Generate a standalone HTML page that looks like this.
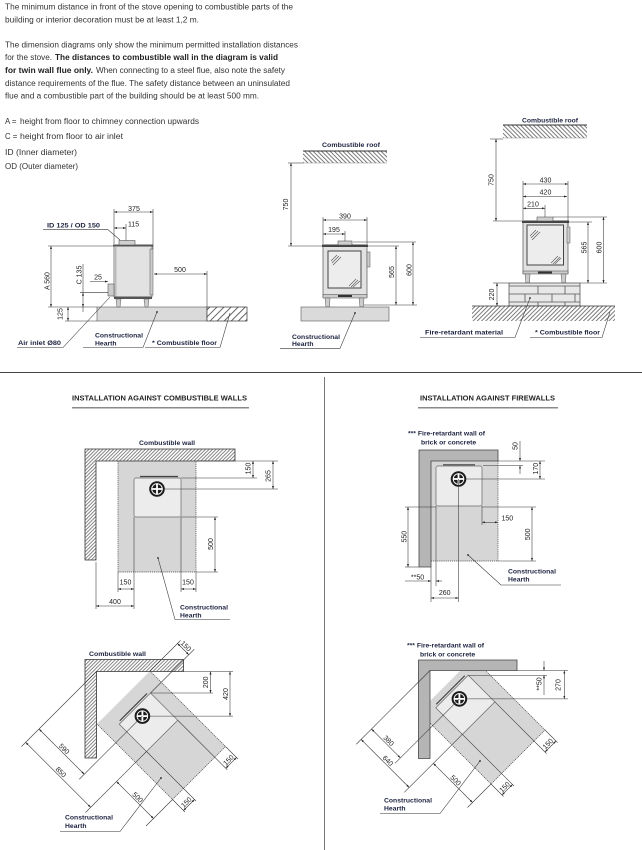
<!DOCTYPE html>
<html><head><meta charset="utf-8"><style>
html,body{margin:0;padding:0;background:#fff;}
svg{display:block;}
text{font-family:"Liberation Sans",sans-serif;}
.t{font-size:7.8px;fill:#333;}
.tb{font-size:7.8px;fill:#222;font-weight:bold;}
.n{font-size:7px;fill:#222;}
.l{font-size:6.8px;fill:#1d2340;font-weight:bold;}
.h{font-size:7px;fill:#222;font-weight:bold;}
.k{stroke:#333;stroke-width:0.55;fill:none;}
.d{stroke:#333;stroke-width:0.55;fill:none;marker-start:url(#ar);marker-end:url(#ar);}
.e{stroke:#333;stroke-width:0.55;fill:none;marker-end:url(#ar);}
.dot{stroke:#444;stroke-width:0.7;stroke-dasharray:1.2,0.9;fill:none;}
</style></head><body>
<svg width="642" height="850" viewBox="0 0 642 850" xmlns="http://www.w3.org/2000/svg">
<defs>
<marker id="ar" viewBox="0 0 6 4" refX="6" refY="2" markerWidth="3.2" markerHeight="2" markerUnits="userSpaceOnUse" orient="auto-start-reverse"><path d="M0,0L6,2L0,4z" fill="#222"/></marker>
<pattern id="hA" patternUnits="userSpaceOnUse" width="5" height="5" patternTransform="rotate(45)"><rect width="5" height="5" fill="#fff"/><line x1="0.5" y1="0" x2="0.5" y2="5" stroke="#222" stroke-width="0.7"/></pattern>
<pattern id="hB" patternUnits="userSpaceOnUse" width="3" height="3" patternTransform="rotate(45)"><rect width="3" height="3" fill="#fff"/><line x1="0.5" y1="0" x2="0.5" y2="3" stroke="#222" stroke-width="0.6"/></pattern>
<pattern id="hR" patternUnits="userSpaceOnUse" width="3" height="3" patternTransform="rotate(-45)"><rect width="3" height="3" fill="#fff"/><line x1="0.5" y1="0" x2="0.5" y2="3" stroke="#222" stroke-width="0.6"/></pattern>
<pattern id="hW" patternUnits="userSpaceOnUse" width="2.5" height="2.5" patternTransform="rotate(45)"><rect width="2.5" height="2.5" fill="#fff"/><line x1="0.5" y1="0" x2="0.5" y2="2.5" stroke="#222" stroke-width="0.55"/></pattern>
<g id="fl"><circle r="7.8" fill="#1b1b1b"/><circle r="5.3" fill="none" stroke="#fff" stroke-width="0.9"/><rect x="-5.6" y="-0.9" width="11.2" height="1.8" fill="#fff"/><rect x="-0.9" y="-5.6" width="1.8" height="11.2" fill="#fff"/></g>
<clipPath id="cr"><rect x="430" y="670.5" width="200" height="180"/></clipPath>
</defs>
<rect width="642" height="850" fill="#fff"/>

<!-- Top text -->
<text class="t" x="5" y="9.3" textLength="288" lengthAdjust="spacingAndGlyphs">The minimum distance in front of the stove opening to combustible parts of the</text>
<text class="t" x="5" y="22.5" textLength="194" lengthAdjust="spacingAndGlyphs">building or interior decoration must be at least 1,2 m.</text>
<text class="t" x="5" y="47.5" textLength="293" lengthAdjust="spacingAndGlyphs">The dimension diagrams only show the minimum permitted installation distances</text>
<text class="t" x="5" y="60.2" textLength="47" lengthAdjust="spacingAndGlyphs">for the stove.</text>
<text class="tb" x="55" y="60.2" textLength="223" lengthAdjust="spacingAndGlyphs">The distances to combustible wall in the diagram is valid</text>
<text class="tb" x="5" y="73.2" textLength="88" lengthAdjust="spacingAndGlyphs">for twin wall flue only.</text>
<text class="t" x="96" y="73.2" textLength="189" lengthAdjust="spacingAndGlyphs">When connecting to a steel flue, also note the safety</text>
<text class="t" x="5" y="85.8" textLength="285" lengthAdjust="spacingAndGlyphs">distance requirements of the flue. The safety distance between an uninsulated</text>
<text class="t" x="5" y="98.5" textLength="254" lengthAdjust="spacingAndGlyphs">flue and a combustible part of the building should be at least 500 mm.</text>
<text class="t" x="5" y="124.2">A =</text>
<text class="t" x="20" y="124.2" textLength="179" lengthAdjust="spacingAndGlyphs">height from floor to chimney connection upwards</text>
<text class="t" x="5" y="139.2">C =</text>
<text class="t" x="20" y="139.2" textLength="103" lengthAdjust="spacingAndGlyphs">height from floor to air inlet</text>
<text class="t" x="5" y="154.8" textLength="72" lengthAdjust="spacingAndGlyphs">ID (Inner diameter)</text>
<text class="t" x="5" y="169.2" textLength="73" lengthAdjust="spacingAndGlyphs">OD (Outer diameter)</text>

<!-- D1 left stove side view -->
<rect x="97" y="307" width="110" height="14" fill="#dadada" stroke="#555" stroke-width="0.6"/>
<rect x="207" y="307" width="40" height="14" fill="url(#hA)" stroke="#333" stroke-width="0.7"/>
<line class="k" x1="48" y1="307" x2="97" y2="307"/>
<line class="k" x1="65" y1="321" x2="97" y2="321"/>
<rect x="114" y="246" width="38" height="51" fill="#e2e2e2" stroke="#555" stroke-width="0.7"/>
<rect x="114" y="247" width="2.5" height="50" fill="#bbb"/>
<rect x="113" y="244.5" width="40" height="2" fill="#555"/>
<rect x="150" y="249" width="3" height="46" fill="#ccc" stroke="#555" stroke-width="0.5"/>
<rect x="114" y="296.5" width="38" height="2.5" fill="#555"/>
<path d="M116,299L121,299L120,307L117,307Z M144,299L149,299L148,307L145,307Z" fill="#ccc" stroke="#555" stroke-width="0.5"/>
<rect x="119" y="240.5" width="16" height="4.5" fill="#d0d0d0" stroke="#555" stroke-width="0.6"/>
<rect x="108" y="284" width="6" height="12" fill="#ccc" stroke="#555" stroke-width="0.6"/>
<line class="d" x1="114" y1="212" x2="153" y2="212"/>
<line class="k" x1="114" y1="209" x2="114" y2="244"/>
<line class="k" x1="153" y1="209" x2="153" y2="249"/>
<text class="n" x="134" y="211" text-anchor="middle">375</text>
<line class="d" x1="114" y1="228" x2="126" y2="228"/>
<line class="k" x1="126" y1="224" x2="126" y2="240.5"/>
<text class="n" x="128" y="226.5">115</text>
<text class="l" x="47" y="227.5" textLength="53" lengthAdjust="spacingAndGlyphs">ID 125 / OD 150</text>
<polyline class="k" points="43,229.7 108,229.7 120,240"/>
<line class="d" x1="51" y1="246" x2="51" y2="307"/>
<line class="k" x1="48" y1="246" x2="113" y2="246"/>
<text class="n" transform="translate(49.5,281) rotate(-90)" text-anchor="middle">A 560</text>
<line class="k" x1="83" y1="264" x2="83" y2="292.7"/>
<line class="d" x1="83" y1="292.7" x2="83" y2="307"/>
<line class="k" x1="83" y1="307" x2="83" y2="312"/>
<line class="k" x1="80" y1="292.7" x2="108" y2="292.7"/>
<text class="n" transform="translate(81.5,275) rotate(-90)" text-anchor="middle">C 135</text>
<line class="e" x1="90" y1="281.5" x2="108" y2="281.5"/>
<text class="n" x="98" y="279.5" text-anchor="middle">25</text>
<line class="d" x1="68" y1="307" x2="68" y2="321"/>
<text class="n" transform="translate(62.3,314) rotate(-90)" text-anchor="middle">125</text>
<line class="d" x1="154" y1="274" x2="207" y2="274"/>
<line class="k" x1="207" y1="271" x2="207" y2="307"/>
<text class="n" x="180" y="271.8" text-anchor="middle">500</text>
<text class="l" x="18" y="344.8" textLength="43" lengthAdjust="spacingAndGlyphs">Air inlet Ø80</text>
<polyline class="k" points="17,347.5 63,347.5 110,297"/>
<text class="l" x="95" y="337.5">Constructional</text>
<text class="l" x="95" y="345.3">Hearth</text>
<polyline class="k" points="83,347.5 143,347.5 157,312"/>
<circle cx="157" cy="312" r="0.9" fill="#222"/>
<text class="l" x="152" y="344.8" textLength="65" lengthAdjust="spacingAndGlyphs">* Combustible floor</text>
<polyline class="k" points="145,347.5 220,347.5 230,313"/>

<!-- D2 middle front view -->
<rect x="303" y="151" width="84" height="12" fill="url(#hR)"/>
<line x1="303" y1="151" x2="387" y2="151" stroke="#333" stroke-width="0.9"/>
<line x1="303" y1="163" x2="387" y2="163" stroke="#777" stroke-width="0.4"/>
<text class="l" x="351" y="147" text-anchor="middle" textLength="58" lengthAdjust="spacingAndGlyphs">Combustible roof</text>
<line class="d" x1="291" y1="163" x2="291" y2="246"/>
<line class="k" x1="288" y1="163" x2="303" y2="163"/>
<line class="k" x1="288" y1="246" x2="322" y2="246"/>
<text class="n" transform="translate(288,204.5) rotate(-90)" text-anchor="middle">750</text>
<rect x="323" y="246" width="44" height="51" fill="#e2e2e2" stroke="#555" stroke-width="0.7"/>
<rect x="322" y="244.5" width="46" height="2.5" fill="#444"/>
<rect x="328" y="251" width="33" height="37" fill="#ededed" stroke="#444" stroke-width="1"/>
<path d="M331,261L337,255M332,263L339,256M333,265L341,257M349,286L356,279M351,287L358,280M353,287L360,281" stroke="#555" stroke-width="0.6"/>
<rect x="367" y="252" width="3" height="15" fill="#ccc" stroke="#555" stroke-width="0.5"/>
<rect x="323" y="294.5" width="44" height="3.5" fill="#ccc" stroke="#444" stroke-width="0.5"/>
<rect x="338" y="295" width="14" height="2" fill="#333"/>
<path d="M325,298L330,298L329.5,307L326,307Z M359,298L364,298L363.5,307L360,307Z" fill="#ccc" stroke="#555" stroke-width="0.5"/>
<rect x="338" y="241" width="14" height="4" fill="#d0d0d0" stroke="#555" stroke-width="0.6"/>
<rect x="301" y="307" width="88" height="14" fill="#dadada" stroke="#555" stroke-width="0.6"/>
<line class="d" x1="323" y1="220" x2="367" y2="220"/>
<text class="n" x="345" y="218.3" text-anchor="middle">390</text>
<line class="k" x1="323" y1="217" x2="323" y2="244"/>
<line class="k" x1="367" y1="217" x2="367" y2="244"/>
<line class="d" x1="323" y1="234" x2="345" y2="234"/>
<text class="n" x="334" y="232" text-anchor="middle">195</text>
<line class="k" x1="345" y1="231" x2="345" y2="241"/>
<line class="d" x1="396" y1="246" x2="396" y2="305"/>
<line class="k" x1="368" y1="246" x2="399" y2="246"/>
<line class="k" x1="364" y1="305" x2="417" y2="305"/>
<text class="n" transform="translate(394,272) rotate(-90)" text-anchor="middle">565</text>
<line class="d" x1="413" y1="242" x2="413" y2="305"/>
<line class="k" x1="353" y1="242" x2="416" y2="242"/>
<text class="n" transform="translate(411.5,270) rotate(-90)" text-anchor="middle">600</text>
<text class="l" x="292" y="339">Constructional</text>
<text class="l" x="292" y="346">Hearth</text>
<polyline class="k" points="280,348.3 340,348.3 355,313"/>
<circle cx="355" cy="313" r="0.9" fill="#222"/>

<!-- D3 right front view on plinth -->
<text class="l" x="550" y="122.7" text-anchor="middle" textLength="56" lengthAdjust="spacingAndGlyphs">Combustible roof</text>
<rect x="503" y="125" width="84" height="13" fill="url(#hR)"/>
<line x1="503" y1="125" x2="587" y2="125" stroke="#333" stroke-width="0.9"/>
<line x1="503" y1="138" x2="587" y2="138" stroke="#777" stroke-width="0.4"/>
<line class="d" x1="496" y1="139" x2="496" y2="221"/>
<line class="k" x1="490" y1="139" x2="503" y2="139"/>
<line class="k" x1="493" y1="221" x2="522" y2="221"/>
<text class="n" transform="translate(493.3,180) rotate(-90)" text-anchor="middle">750</text>
<rect x="523" y="221.5" width="45" height="52" fill="#e2e2e2" stroke="#555" stroke-width="0.7"/>
<rect x="522" y="220.5" width="47" height="2.5" fill="#444"/>
<rect x="527" y="225" width="36.5" height="40" fill="#ededed" stroke="#444" stroke-width="1"/>
<path d="M530,236L536,230M531,238L538,231M532,240L540,232M551,263L558,256M553,264L560,257M555,264L561,258" stroke="#555" stroke-width="0.6"/>
<rect x="567" y="227" width="3" height="16" fill="#ccc" stroke="#555" stroke-width="0.5"/>
<rect x="523" y="271" width="45" height="3" fill="#ccc" stroke="#444" stroke-width="0.5"/>
<rect x="538" y="271.5" width="14" height="2" fill="#333"/>
<path d="M525,274L530,274L529.5,283L526,283Z M561,274L566,274L565.5,283L562,283Z" fill="#ccc" stroke="#555" stroke-width="0.5"/>
<rect x="537" y="217" width="16" height="4" fill="#d0d0d0" stroke="#555" stroke-width="0.6"/>
<rect x="509" y="283" width="71" height="23" fill="#e8e8e8" stroke="#444" stroke-width="0.7"/>
<path d="M509,286H580M509,294H580M509,302H580M538,286V294M565,286V294M525,294V302M552,294V302M575,294V302M538,302V306M565,302V306" stroke="#555" stroke-width="0.8" fill="none"/>
<rect x="472" y="306" width="143" height="15" fill="url(#hB)"/>
<line x1="472" y1="306" x2="615" y2="306" stroke="#333" stroke-width="0.8"/>
<line class="d" x1="523" y1="184" x2="568" y2="184"/>
<text class="n" x="545.5" y="182.5" text-anchor="middle">430</text>
<line class="d" x1="523" y1="196.5" x2="567" y2="196.5"/>
<text class="n" x="545.5" y="194.7" text-anchor="middle">420</text>
<line class="d" x1="523" y1="208.3" x2="545" y2="208.3"/>
<text class="n" x="533" y="206.5" text-anchor="middle">210</text>
<line class="k" x1="545" y1="205" x2="545" y2="217"/>
<line class="k" x1="523" y1="181" x2="523" y2="220"/>
<line class="k" x1="568" y1="181" x2="568" y2="226"/>
<line class="d" x1="588" y1="222" x2="588" y2="283"/>
<text class="n" transform="translate(586.5,247.5) rotate(-90)" text-anchor="middle">565</text>
<line class="d" x1="603.5" y1="217" x2="603.5" y2="283"/>
<text class="n" transform="translate(601.3,247.5) rotate(-90)" text-anchor="middle">600</text>
<line class="k" x1="553" y1="217" x2="607" y2="217"/>
<line class="k" x1="569" y1="222" x2="592" y2="222"/>
<line class="k" x1="580" y1="283" x2="607" y2="283"/>
<line class="d" x1="497" y1="283" x2="497" y2="306"/>
<line class="k" x1="493" y1="283" x2="509" y2="283"/>
<text class="n" transform="translate(494,294.5) rotate(-90)" text-anchor="middle">220</text>
<text class="l" x="425" y="334.5" textLength="78" lengthAdjust="spacingAndGlyphs">Fire-retardant material</text>
<polyline class="k" points="420,337.5 515,337.5 530,298"/>
<circle cx="530" cy="298" r="0.9" fill="#222"/>
<text class="l" x="535" y="334.5" textLength="65" lengthAdjust="spacingAndGlyphs">* Combustible floor</text>
<polyline class="k" points="530,337.5 602,337.5 610,312"/>

<!-- Dividers -->
<line x1="0" y1="372.5" x2="642" y2="372.5" stroke="#444" stroke-width="1"/>
<line x1="324.5" y1="377" x2="324.5" y2="850" stroke="#777" stroke-width="1"/>

<!-- P1 combustible walls plan -->
<text class="h" x="72" y="400.5" textLength="175" lengthAdjust="spacingAndGlyphs">INSTALLATION AGAINST COMBUSTIBLE WALLS</text>
<line x1="72" y1="407.8" x2="249" y2="407.8" stroke="#8a8a8a" stroke-width="1.5"/>
<text class="l" x="167" y="445" text-anchor="middle" textLength="56" lengthAdjust="spacingAndGlyphs">Combustible wall</text>
<rect x="118" y="461" width="78" height="111" fill="#d6d6d6"/>
<path class="dot" d="M118,461V572H196V461"/>
<path d="M85,449H235V461H96V560H85Z" fill="url(#hW)" stroke="#333" stroke-width="0.8"/>
<rect x="134" y="478" width="47" height="39" rx="2" fill="#ececec" stroke="#666" stroke-width="0.7"/>
<line x1="140" y1="476.5" x2="178" y2="476.5" stroke="#444" stroke-width="1.2"/>
<use href="#fl" x="157" y="489"/>
<line class="d" x1="253" y1="461" x2="253" y2="478"/>
<text class="n" transform="translate(250.7,468.5) rotate(-90)" text-anchor="middle">150</text>
<line class="d" x1="273" y1="461" x2="273" y2="489"/>
<text class="n" transform="translate(270.7,476) rotate(-90)" text-anchor="middle">265</text>
<line class="k" x1="196" y1="461" x2="278" y2="461"/>
<line class="k" x1="181" y1="478" x2="257" y2="478"/>
<line class="k" x1="164" y1="489" x2="278" y2="489"/>
<line class="d" x1="215" y1="517" x2="215" y2="572"/>
<text class="n" transform="translate(213,544) rotate(-90)" text-anchor="middle">500</text>
<line class="k" x1="181" y1="517" x2="218" y2="517"/>
<line class="k" x1="196" y1="572" x2="218" y2="572"/>
<line class="k" x1="134" y1="517" x2="134" y2="609"/>
<line class="k" x1="181" y1="517" x2="181" y2="592"/>
<line class="d" x1="118" y1="589" x2="134" y2="589"/>
<line class="k" x1="118" y1="572" x2="118" y2="592"/>
<text class="n" x="125.5" y="584.3" text-anchor="middle">150</text>
<line class="d" x1="181" y1="589" x2="196" y2="589"/>
<line class="k" x1="196" y1="572" x2="196" y2="592"/>
<text class="n" x="188" y="584.3" text-anchor="middle">150</text>
<line class="d" x1="96" y1="606" x2="134" y2="606"/>
<line class="k" x1="96" y1="562" x2="96" y2="609"/>
<text class="n" x="115" y="604" text-anchor="middle">400</text>
<text class="l" x="180" y="609.5">Constructional</text>
<text class="l" x="180" y="617.3">Hearth</text>
<polyline class="k" points="230,619.5 175,619.5 158,558"/>
<circle cx="158" cy="558" r="0.9" fill="#222"/>

<!-- P2 firewalls plan -->
<text class="h" x="420" y="400.5" textLength="135" lengthAdjust="spacingAndGlyphs">INSTALLATION AGAINST FIREWALLS</text>
<line x1="418" y1="407.8" x2="558" y2="407.8" stroke="#8a8a8a" stroke-width="1.5"/>
<text class="l" x="408" y="435.5">*** Fire-retardant wall of</text>
<text class="l" x="421" y="444.5">brick or concrete</text>
<rect x="431" y="461" width="67" height="100" fill="#d6d6d6"/>
<path class="dot" d="M498,461V561H431"/>
<path d="M419,450H498V461H431V567H419Z" fill="#b5b5b5" stroke="#444" stroke-width="0.8"/>
<rect x="436" y="466" width="46" height="40" rx="2" fill="#ececec" stroke="#666" stroke-width="0.7"/>
<line x1="443" y1="464.8" x2="475" y2="464.8" stroke="#444" stroke-width="1.2"/>
<use href="#fl" x="458.5" y="479"/>
<line class="e" x1="520" y1="441" x2="520" y2="461"/>
<line class="e" x1="520" y1="474" x2="520" y2="465.5"/>
<text class="n" transform="translate(517.7,446) rotate(-90)" text-anchor="middle">50</text>
<line class="d" x1="540" y1="461" x2="540" y2="479"/>
<text class="n" transform="translate(538,468.7) rotate(-90)" text-anchor="middle">170</text>
<line class="k" x1="498" y1="461" x2="545" y2="461"/>
<line class="k" x1="483" y1="465.5" x2="523" y2="465.5"/>
<line class="k" x1="466" y1="479" x2="545" y2="479"/>
<line class="d" x1="482" y1="522.3" x2="498" y2="522.3"/>
<line class="k" x1="482" y1="506" x2="482" y2="525"/>
<text class="n" x="501.5" y="520.5">150</text>
<line class="d" x1="532" y1="507" x2="532" y2="561"/>
<text class="n" transform="translate(530,534.3) rotate(-90)" text-anchor="middle">500</text>
<line class="k" x1="482" y1="507" x2="536" y2="507"/>
<line class="k" x1="498" y1="561" x2="536" y2="561"/>
<line class="d" x1="408" y1="507" x2="408" y2="567"/>
<text class="n" transform="translate(406.5,536.7) rotate(-90)" text-anchor="middle">550</text>
<line class="k" x1="405" y1="507" x2="436" y2="507"/>
<line class="k" x1="405" y1="567" x2="419" y2="567"/>
<line class="e" x1="405" y1="581" x2="431" y2="581"/>
<line class="e" x1="442" y1="581" x2="436" y2="581"/>
<text class="n" x="417.5" y="579.3" text-anchor="middle">**50</text>
<line class="k" x1="431" y1="567" x2="431" y2="602"/>
<line class="k" x1="436" y1="506" x2="436" y2="586"/>
<line class="k" x1="458.5" y1="479" x2="458.5" y2="602"/>
<line class="d" x1="431" y1="598" x2="458.5" y2="598"/>
<text class="n" x="444.7" y="595" text-anchor="middle">260</text>
<text class="l" x="508" y="573.5">Constructional</text>
<text class="l" x="508" y="581.3">Hearth</text>
<polyline class="k" points="561,585 501,585 468,555"/>
<circle cx="468" cy="555" r="0.9" fill="#222"/>

<!-- DL diagonal, combustible wall -->
<text class="l" x="89" y="656" textLength="57" lengthAdjust="spacingAndGlyphs">Combustible wall</text>
<polygon points="97,724 150,671 225.5,746.5 172.5,799.5" fill="#d6d6d6"/>
<path class="dot" d="M150,671L225.5,746.5L172.5,799.5L97,724"/>
<polygon points="119.25,724.25 150.5,693 177.75,720.25 146.5,751.5" fill="#ececec" stroke="#666" stroke-width="0.7"/>
<line x1="119.75" y1="720.75" x2="147" y2="693.5" stroke="#444" stroke-width="1.2"/>
<use href="#fl" x="142.4" y="716.1"/>
<path d="M85,659.5H183.5V671.5H96.5V758H85Z" fill="url(#hW)" stroke="#333" stroke-width="0.8"/>
<line class="k" x1="96.5" y1="671.5" x2="21.5" y2="746.5"/>
<line class="d" x1="39" y1="729" x2="84.25" y2="774.25"/>
<text class="n" transform="translate(62.5,750.5) rotate(45)" text-anchor="middle">590</text>
<line class="d" x1="25.65" y1="742.35" x2="90.65" y2="807.35"/>
<text class="n" transform="translate(59.3,773.8) rotate(45)" text-anchor="middle">850</text>
<line class="k" x1="142.4" y1="716.1" x2="79.25" y2="779.25"/>
<line class="k" x1="146.5" y1="751.5" x2="85.5" y2="812.5"/>
<line class="d" x1="116.5" y1="781.5" x2="153.5" y2="818.5"/>
<text class="n" transform="translate(136,799) rotate(45)" text-anchor="middle">500</text>
<line class="k" x1="172.5" y1="799.5" x2="146" y2="826"/>
<line class="k" x1="150" y1="671" x2="180.5" y2="640.5"/>
<line class="k" x1="150.5" y1="693" x2="194.25" y2="649.25"/>
<line class="d" x1="177.5" y1="643.5" x2="188.75" y2="654.75"/>
<text class="n" transform="translate(184.3,647.7) rotate(45)" text-anchor="middle">150</text>
<line class="k" x1="177.75" y1="720.25" x2="227.25" y2="769.75"/>
<line class="k" x1="225.5" y1="746.5" x2="238" y2="759"/>
<line class="d" x1="225.75" y1="768.25" x2="236.5" y2="757.5"/>
<text class="n" transform="translate(230.1,761.9) rotate(-45)" text-anchor="middle">150</text>
<line class="k" x1="146.5" y1="751.5" x2="196" y2="801"/>
<line class="k" x1="172.5" y1="799.5" x2="185" y2="812"/>
<line class="d" x1="183.5" y1="810.5" x2="194.5" y2="799.5"/>
<text class="n" transform="translate(188,804) rotate(-45)" text-anchor="middle">150</text>
<line class="d" x1="210.5" y1="671.5" x2="210.5" y2="693"/>
<text class="n" transform="translate(208,682.3) rotate(-90)" text-anchor="middle">200</text>
<line class="d" x1="230" y1="671.5" x2="230" y2="716.1"/>
<text class="n" transform="translate(228,694) rotate(-90)" text-anchor="middle">420</text>
<line class="k" x1="183.5" y1="671.5" x2="233" y2="671.5"/>
<line class="k" x1="150.5" y1="693" x2="213" y2="693"/>
<line class="k" x1="148" y1="716.1" x2="233" y2="716.1"/>
<text class="l" x="65" y="819.5">Constructional</text>
<text class="l" x="65" y="828">Hearth</text>
<polyline class="k" points="60,831.5 120,831.5 161,778"/>
<circle cx="161" cy="778" r="0.9" fill="#222"/>

<!-- DR diagonal, firewall -->
<text class="l" x="407" y="647.5">*** Fire-retardant wall of</text>
<text class="l" x="420" y="656.5">brick or concrete</text>
<g clip-path="url(#cr)">
<polygon points="419,712 473,658 545,730 491,784" fill="#d6d6d6"/>
<path class="dot" d="M473,658L545,730L491,784L419,712"/>
</g>
<polygon points="435.75,707.75 468.25,675.25 494.85,701.85 462.35,734.35" fill="#ececec" stroke="#666" stroke-width="0.7"/>
<line x1="436.25" y1="704.25" x2="464.75" y2="675.75" stroke="#444" stroke-width="1.2"/>
<use href="#fl" x="459.4" y="698.9"/>
<path d="M418.5,660H517V670.5H430V758.5H418.5Z" fill="#b5b5b5" stroke="#444" stroke-width="0.8"/>
<line class="k" x1="430" y1="670.5" x2="356.25" y2="744.25"/>
<line class="d" x1="371.5" y1="729" x2="400.4" y2="757.9"/>
<text class="n" transform="translate(387,742.4) rotate(45)" text-anchor="middle">380</text>
<line class="d" x1="361.1" y1="739.4" x2="409.2" y2="787.5"/>
<text class="n" transform="translate(386.2,762.4) rotate(45)" text-anchor="middle">640</text>
<line class="k" x1="459.4" y1="698.9" x2="395.15" y2="763.15"/>
<line class="k" x1="462.35" y1="734.35" x2="404.35" y2="792.35"/>
<line class="d" x1="433.35" y1="763.35" x2="472.5" y2="802.5"/>
<text class="n" transform="translate(454,782) rotate(45)" text-anchor="middle">500</text>
<line class="k" x1="491" y1="784" x2="467.5" y2="807.5"/>
<line class="k" x1="494.85" y1="701.85" x2="546.5" y2="753.5"/>
<line class="k" x1="545" y1="730" x2="557.5" y2="742.5"/>
<line class="d" x1="545" y1="752" x2="556" y2="741"/>
<text class="n" transform="translate(549.5,745.5) rotate(-45)" text-anchor="middle">150</text>
<line class="k" x1="462.35" y1="734.35" x2="514" y2="786"/>
<line class="k" x1="491" y1="784" x2="503.5" y2="796.5"/>
<line class="d" x1="502" y1="795" x2="512.5" y2="784.5"/>
<text class="n" transform="translate(506.3,788.8) rotate(-45)" text-anchor="middle">150</text>
<line class="e" x1="544" y1="661" x2="544" y2="670.5"/>
<line class="e" x1="544" y1="695" x2="544" y2="675.25"/>
<text class="n" transform="translate(541.7,684) rotate(-90)" text-anchor="middle">**50</text>
<line class="d" x1="564.3" y1="670.5" x2="564.3" y2="698.9"/>
<text class="n" transform="translate(560.7,685) rotate(-90)" text-anchor="middle">270</text>
<line class="k" x1="517" y1="670.5" x2="568" y2="670.5"/>
<line class="k" x1="468.25" y1="675.25" x2="547" y2="675.25"/>
<line class="k" x1="466" y1="698.9" x2="568" y2="698.9"/>
<text class="l" x="384" y="802.5">Constructional</text>
<text class="l" x="384" y="810.5">Hearth</text>
<polyline class="k" points="380,813.5 440,813.5 480,761"/>
<circle cx="480" cy="761" r="0.9" fill="#222"/>
</svg>
</body></html>
